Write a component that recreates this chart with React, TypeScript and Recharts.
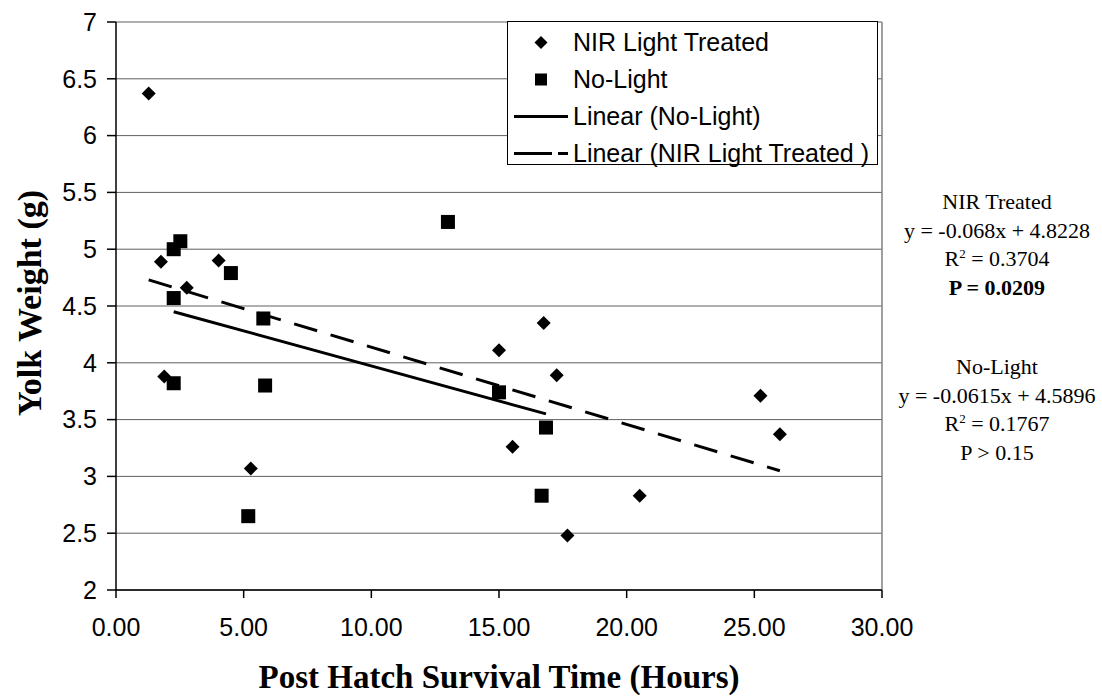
import React from 'react';
import {
  ScatterChart,
  Scatter,
  XAxis,
  YAxis,
  CartesianGrid,
  Legend,
  ReferenceLine,
} from 'recharts';

// values
const nirX = [1.28, 1.76, 1.89, 2.77, 4.02, 5.28, 15.0, 15.53, 16.75, 17.26, 17.68, 20.51, 25.24, 26.0];
const nirY = [6.37, 4.89, 3.88, 4.66, 4.9, 3.07, 4.11, 3.26, 4.35, 3.89, 2.48, 2.83, 3.71, 3.37];

const noLightX = [2.26, 2.26, 2.52, 2.26, 4.5, 5.18, 5.77, 5.84, 13.0, 15.0, 16.67, 16.84];
const noLightY = [4.57, 5.0, 5.07, 3.82, 4.79, 2.65, 4.39, 3.8, 5.24, 3.74, 2.83, 3.43];

// trend line end points
const nirTrendX = [1.28, 26.0];
const nirTrendY = [4.73, 3.05];
const noLightTrendX = [2.26, 16.84];
const noLightTrendY = [4.45, 3.55];

const xTicks = [0, 5, 10, 15, 20, 25, 30];
const yTicks = [2, 2.5, 3, 3.5, 4, 4.5, 5, 5.5, 6, 6.5, 7];

const nirStats = ['NIR Treated', 'y = -0.068x + 4.8228', '0.3704', 'P = 0.0209'];
const noLightStats = ['No-Light', 'y = -0.0615x + 4.5896', '0.1767', 'P > 0.15'];

const zip = (xs: number[], ys: number[]) => xs.map((x, i) => ({ x, y: ys[i] }));

const nirData = zip(nirX, nirY);
const noLightData = zip(noLightX, noLightY);
const nirTrend = zip(nirTrendX, nirTrendY);
const noLightTrend = zip(noLightTrendX, noLightTrendY);

const SANS = '"Liberation Sans", Arial, sans-serif';
const SERIF = '"Liberation Serif", "Times New Roman", serif';

function Diamond(props: any) {
  const { cx, cy } = props;
  const r = 7;
  return (
    <polygon
      points={`${cx},${cy - r} ${cx + r},${cy} ${cx},${cy + r} ${cx - r},${cy}`}
      fill='#000'
    />
  );
}

function Square(props: any) {
  const { cx, cy } = props;
  return <rect x={cx - 7} y={cy - 7} width={14} height={14} fill='#000' />;
}

const NoMarker = () => <g />;

function LegendBox() {
  const rows = [
    {
      name: 'NIR Light Treated',
      icon: <polygon points='33,12 39.5,18.5 33,25 26.5,18.5' fill='#000' />,
    },
    {
      name: 'No-Light',
      icon: <rect x={27} y={12.5} width={12} height={12} fill='#000' />,
    },
    {
      name: 'Linear (No-Light)',
      icon: <line x1={6} y1={18.5} x2={60} y2={18.5} stroke='#000' strokeWidth={3} />,
    },
    {
      name: 'Linear (NIR Light Treated )',
      icon: (
        <line x1={6} y1={18.5} x2={60} y2={18.5} stroke='#000' strokeWidth={3} strokeDasharray='38 6' />
      ),
    },
  ];

  return (
    <div
      style={{
        width: 371,
        height: 144,
        boxSizing: 'border-box',
        border: '1px solid #000',
        background: '#fff',
        paddingTop: 2,
        fontFamily: SANS,
        fontSize: 25,
        color: '#000',
      }}
    >
      {rows.map((r) => (
        <div key={r.name} style={{ display: 'flex', alignItems: 'center', height: 37 }}>
          <svg width={64} height={37}>
            {r.icon}
          </svg>
          <span style={{ marginLeft: 1, whiteSpace: 'nowrap' }}>{r.name}</span>
        </div>
      ))}
    </div>
  );
}

function StatsBlock({ lines, top, bold }: { lines: string[]; top: number; bold: boolean }) {
  return (
    <div
      style={{
        position: 'absolute',
        left: 897,
        width: 200,
        top,
        textAlign: 'center',
        fontFamily: SERIF,
        fontSize: 22,
        lineHeight: '28.5px',
        color: '#000',
        whiteSpace: 'nowrap',
      }}
    >
      <div>{lines[0]}</div>
      <div>{lines[1]}</div>
      <div>
        R<sup style={{ fontSize: 13, verticalAlign: 'top', lineHeight: '18px' }}>2</sup> = {lines[2]}
      </div>
      <div style={{ fontWeight: bold ? 'bold' : 'normal' }}>{lines[3]}</div>
    </div>
  );
}

export default function App() {
  return (
    <div style={{ position: 'relative', width: 1102, height: 697, background: '#fff' }}>
      <style>{'body{margin:0}'}</style>

      <ScatterChart
        width={1102}
        height={697}
        margin={{ top: 22, right: 220, bottom: 0, left: 0 }}
        style={{ fontFamily: SANS }}
      >
        <CartesianGrid vertical={false} stroke='#606060' strokeWidth={1} />

        <XAxis
          type='number'
          dataKey='x'
          domain={[0, 30]}
          ticks={xTicks}
          interval={0}
          height={107}
          tickSize={8}
          tickMargin={20}
          tickFormatter={(v: number) => v.toFixed(2)}
          tick={{ fontSize: 25, fill: '#000', fontFamily: SANS }}
          axisLine={{ stroke: '#000', strokeWidth: 1.5 }}
          tickLine={{ stroke: '#000', strokeWidth: 1.5 }}
          label={{
            content: (p: any) => {
              const vb = p.viewBox;
              return (
                <text
                  x={vb.x + vb.width / 2}
                  y={688}
                  textAnchor='middle'
                  fontFamily={SERIF}
                  fontWeight='bold'
                  fontSize={33}
                  fill='#000'
                >
                  Post Hatch Survival Time (Hours)
                </text>
              );
            },
          }}
        />

        <YAxis
          type='number'
          dataKey='y'
          domain={[2, 7]}
          ticks={yTicks}
          interval={0}
          width={116}
          tickSize={9}
          tickMargin={10}
          tick={{ fontSize: 25, fill: '#000', fontFamily: SANS }}
          axisLine={{ stroke: '#000', strokeWidth: 1.5 }}
          tickLine={{ stroke: '#000', strokeWidth: 1.5 }}
          label={{
            content: (p: any) => {
              const vb = p.viewBox;
              const cy = vb.y + vb.height / 2 - 3;
              return (
                <text
                  x={41}
                  y={cy}
                  transform={`rotate(-90 41 ${cy})`}
                  textAnchor='middle'
                  fontFamily={SERIF}
                  fontWeight='bold'
                  fontSize={34}
                  fill='#000'
                >
                  Yolk Weight (g)
                </text>
              );
            },
          }}
        />

        <ReferenceLine x={30} stroke='#808080' strokeWidth={1.5} />

        <Scatter
          name='Linear (No-Light)'
          data={noLightTrend}
          fill='#000'
          line={{ stroke: '#000', strokeWidth: 3 }}
          shape={NoMarker}
          isAnimationActive={false}
        />
        <Scatter
          name='Linear (NIR Light Treated )'
          data={nirTrend}
          fill='#000'
          line={{ stroke: '#000', strokeWidth: 3, strokeDasharray: '24 14' }}
          shape={NoMarker}
          isAnimationActive={false}
        />
        <Scatter
          name='NIR Light Treated'
          data={nirData}
          fill='#000'
          shape={Diamond}
          isAnimationActive={false}
        />
        <Scatter
          name='No-Light'
          data={noLightData}
          fill='#000'
          shape={Square}
          isAnimationActive={false}
        />

        <Legend
          layout='vertical'
          align='center'
          verticalAlign='middle'
          wrapperStyle={{ left: 507, top: 21, width: 371, height: 144 }}
          content={() => <LegendBox />}
        />
      </ScatterChart>

      <StatsBlock lines={nirStats} top={188} bold />
      <StatsBlock lines={noLightStats} top={353} bold={false} />
    </div>
  );
}
